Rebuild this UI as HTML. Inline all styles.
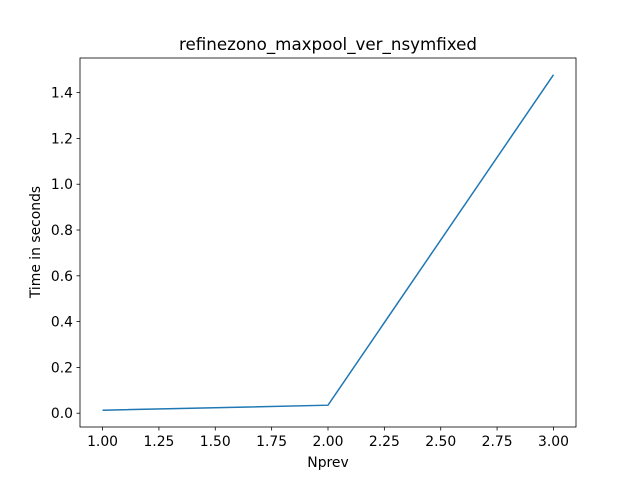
<!DOCTYPE html>
<html><head><meta charset="utf-8"><style>body{margin:0;background:#fff}svg{display:block;font-family:"DejaVu Sans","Liberation Sans",sans-serif}</style></head>
<body>
<svg id="chart" width="640" height="480"></svg>
<script>
const xValues = [1, 2, 3];
const yValues = [0.013, 0.035, 1.478];
const xTicks = [1.00, 1.25, 1.50, 1.75, 2.00, 2.25, 2.50, 2.75, 3.00];
const yTicks = [0.0, 0.2, 0.4, 0.6, 0.8, 1.0, 1.2, 1.4];
const L=80,R=576,T=58,B=427;
const xmin=0.9, xmax=3.1;
const yr=Math.max(...yValues)-Math.min(...yValues);
const ymin=Math.min(...yValues)-0.05*yr, ymax=Math.max(...yValues)+0.05*yr;
const sx=v=>L+(v-xmin)/(xmax-xmin)*(R-L);
const sy=v=>B-(v-ymin)/(ymax-ymin)*(B-T);
const svg=document.getElementById('chart');
const NS='http://www.w3.org/2000/svg';
function mk(tag,attrs,parent){const e=document.createElementNS(NS,tag);for(const k in attrs)e.setAttribute(k,attrs[k]);(parent||svg).appendChild(e);return e;}
let t=mk('text',{x:328,y:50,'text-anchor':'middle','font-size':16.7});t.textContent='refinezono_maxpool_ver_nsymfixed';


const line=mk('polyline',{points:xValues.map((x,i)=>sx(x)+','+sy(yValues[i])).join(' '),fill:'none',stroke:'#1f77b4','stroke-width':1.5});


const frame=mk('rect',{x:L,y:T,width:R-L,height:B-T,fill:'none',stroke:'#000','stroke-width':0.8});


xTicks.forEach(v=>{const x=sx(v);mk('line',{x1:x,x2:x,y1:B,y2:B+3.5,stroke:'#000','stroke-width':0.8});
const tx=mk('text',{x:x,y:B+19,'text-anchor':'middle','font-size':13.9});tx.textContent=v.toFixed(2);

});
yTicks.forEach(v=>{const y=sy(v);mk('line',{x1:L-3.5,x2:L,y1:y,y2:y,stroke:'#000','stroke-width':0.8});
const ty=mk('text',{x:L-7,y:y+5,'text-anchor':'end','font-size':13.9});ty.textContent=v.toFixed(1);

});
const xl=mk('text',{x:328,y:467,'text-anchor':'middle','font-size':13.9});xl.textContent='Nprev';


const yl=mk('text',{x:0,y:0,'text-anchor':'middle','font-size':13.9,transform:'translate(40,242) rotate(-90)'});yl.textContent='Time in seconds';


</script>
</body></html>
